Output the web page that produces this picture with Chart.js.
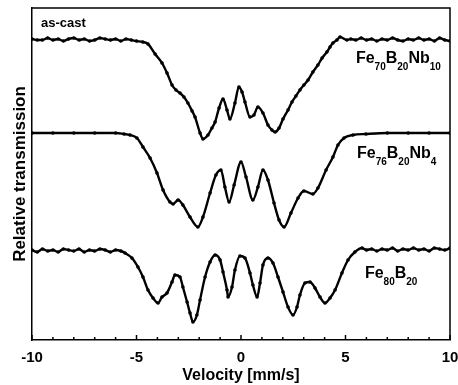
<!DOCTYPE html>
<html>
<head>
<meta charset="utf-8">
<script src="https://cdn.jsdelivr.net/npm/chart.js@4/dist/chart.umd.min.js"></script>
<style>
html,body{margin:0;padding:0;background:#fff;}
#wrap{width:458px;height:385px;}
</style>
</head>
<body>
<div id="wrap"><canvas id="c" width="458" height="385"></canvas></div>
<script>
// ---- data (velocity in mm/s, transmission in arbitrary units, curves stacked) ----
const velNb10 = [-10,-9.75,-9.5,-9.25,-9,-8.75,-8.5,-8.25,-8,-7.75,-7.5,-7.25,-7,-6.75,-6.5,-6.25,-6,-5.75,-5.5,-5.25,-5,-4.7,-4.45,-4.11,-3.78,-3.54,-3.30,-3.11,-2.92,-2.73,-2.54,-2.34,-2.20,-1.96,-1.82,-1.58,-1.39,-1.24,-1.05,-0.86,-0.67,-0.53,-0.29,-0.10,0.05,0.19,0.43,0.62,0.81,1.05,1.29,1.48,1.63,1.82,2.01,2.25,2.44,2.63,2.82,3.01,3.21,3.44,3.68,3.88,4.11,4.26,4.40,4.59,4.74,5.07,5.25,5.5,5.75,6,6.25,6.5,6.75,7,7.25,7.5,7.75,8,8.25,8.5,8.75,9,9.25,9.5,9.75,10];
const trNb10  = [301,300,300,302,300,301,299,301,302,300,301,299,300,302,301,300,301,299,301,300,299,298,296,286,277,267,255,250,247,243,237,229,223,207,201,205,212,218,232,241,230,221,237,253,248,238,223,225,233,227,215,210,208,212,221,230,238,244,250,255,260,268,275,282,288,293,297,300,303,300,301,300,302,300,301,299,301,300,302,300,299,301,300,302,300,301,299,302,300,299];

const velNb4 = [-10,-9,-8,-7,-6,-5.6,-5.31,-4.98,-4.69,-4.35,-4.02,-3.73,-3.40,-3.25,-3.01,-2.78,-2.44,-2.06,-1.82,-1.48,-1.20,-0.96,-0.77,-0.57,-0.33,0.00,0.24,0.57,0.81,1.05,1.29,1.58,1.82,2.06,2.39,2.73,3.01,3.44,3.68,4.07,4.40,4.64,4.93,5.36,5.98,7,8,9,10];
const trNb4  = [207,207,207,207,207,206,205,202,193,182,167,150,138,136,140,135,123,113,123,147,165,170,153,138,155,178,163,140,153,170,160,137,120,113,127,142,149,146,152,170,183,195,202,205,206,207,207,207,207];

const velB20 = [-10,-9.75,-9.5,-9.25,-9,-8.75,-8.5,-8.25,-8,-7.75,-7.5,-7.25,-7,-6.75,-6.5,-6.25,-6,-5.75,-5.55,-5.22,-4.93,-4.69,-4.45,-4.21,-3.97,-3.78,-3.54,-3.30,-3.16,-2.92,-2.78,-2.58,-2.44,-2.30,-2.11,-1.96,-1.72,-1.48,-1.24,-1.00,-0.86,-0.67,-0.62,-0.43,-0.29,-0.05,0.19,0.43,0.57,0.77,0.91,1.05,1.29,1.53,1.77,2.01,2.25,2.49,2.68,2.82,3.06,3.30,3.54,3.78,4.02,4.26,4.50,4.83,5.12,5.45,5.79,6,6.25,6.5,6.75,7,7.25,7.5,7.75,8,8.25,8.5,8.75,9,9.25,9.5,9.75,10];
const trB20  = [90,88,91,89,90,88,91,90,89,91,88,90,89,91,90,88,90,89,87,82,73,63,50,42,37,43,47,58,65,63,53,38,27,18,25,40,63,78,85,80,68,50,43,53,70,84,82,67,55,43,57,75,82,77,63,48,33,25,33,45,57,58,52,43,37,42,50,67,80,88,92,90,91,89,91,90,92,89,91,90,92,90,91,89,92,91,90,92];

const xTickValues = [-10,-9,-8,-7,-6,-5,-4,-3,-2,-1,0,1,2,3,4,5,6,7,8,9,10];
const xTickLabels = [-10,-5,0,5,10];

const curveNames = [["Fe","70","B","20","Nb","10"],["Fe","76","B","20","Nb","4"],["Fe","80","B","20"]];
const curveLabelX = [5.5, 5.55, 5.93];
const curveLabelY = [277, 182, 62];
const noteText = "as-cast";
const noteX = -9.57, noteY = 313;

const toPts = (xs, ys) => xs.map((v, i) => ({x: v, y: ys[i]}));
const FONT = "'Liberation Sans', Arial, sans-serif";

const ds = (pts) => ({
  data: pts, borderColor: '#000', backgroundColor: '#000', borderWidth: 2.4,
  pointRadius: 1.8, pointBackgroundColor: '#000', pointBorderWidth: 0,
  cubicInterpolationMode: 'monotone', fill: false
});

const decor = {
  id: 'decor',
  afterDraw(chart) {
    const c = chart.ctx, a = chart.chartArea;
    const xs = chart.scales.x, ys = chart.scales.y;
    c.save();
    c.strokeStyle = '#000';
    c.lineWidth = 1.5;
    // frame top & right
    c.beginPath();
    c.moveTo(a.left, a.top); c.lineTo(a.right, a.top); c.lineTo(a.right, a.bottom);
    c.stroke();
    // inward ticks on bottom axis
    xTickValues.forEach(v => {
      const px = xs.getPixelForValue(v);
      const len = xTickLabels.includes(v) ? 5 : 3;
      c.beginPath(); c.moveTo(px, a.bottom); c.lineTo(px, a.bottom - len); c.stroke();
    });
    // curve labels with subscripts
    c.fillStyle = '#000';
    c.textBaseline = 'alphabetic';
    c.textAlign = 'left';
    curveNames.forEach((parts, k) => {
      let x = xs.getPixelForValue(curveLabelX[k]);
      const y = ys.getPixelForValue(curveLabelY[k]);
      parts.forEach((p, j) => {
        const sub = j % 2 === 1;
        c.font = 'bold ' + (sub ? 10 : 16) + 'px ' + FONT;
        c.fillText(p, x, sub ? y + 7 : y);
        x += c.measureText(p).width;
      });
    });
    c.font = 'bold 13px ' + FONT;
    c.fillText(noteText, xs.getPixelForValue(noteX), ys.getPixelForValue(noteY));
    c.restore();
  }
};

new Chart(document.getElementById('c'), {
  type: 'line',
  data: { datasets: [ds(toPts(velNb10, trNb10)), ds(toPts(velNb4, trNb4)), ds(toPts(velB20, trB20))] },
  options: {
    responsive: false, animation: false,
    layout: { padding: { top: 8, right: 8, left: 0, bottom: 0 } },
    plugins: { legend: { display: false }, tooltip: { enabled: false } },
    scales: {
      x: {
        type: 'linear', min: -10, max: 10,
        afterFit: s => { s.height = 45; s.paddingLeft = 0; s.paddingRight = 0; },
        afterBuildTicks: s => { s.ticks = xTickValues.map(v => ({ value: v })); },
        ticks: {
          autoSkip: false, maxRotation: 0, color: '#000', padding: 9,
          font: { family: FONT, size: 15, weight: 'bold' },
          callback: v => xTickLabels.includes(v) ? String(v) : ''
        },
        grid: { display: false, drawTicks: false },
        border: { display: true, color: '#000', width: 1.5 },
        title: { display: true, text: 'Velocity [mm/s]', color: '#000', padding: { top: 0, bottom: 0 },
                 font: { family: FONT, size: 16, weight: 'bold' } }
      },
      y: {
        min: 0, max: 332,
        afterFit: s => { s.width = 32; s.paddingTop = 0; s.paddingBottom = 0; },
        ticks: { display: false },
        grid: { display: false, drawTicks: false },
        border: { display: true, color: '#000', width: 1.5 },
        title: { display: true, text: 'Relative transmission', color: '#000', padding: { top: 10, bottom: 0 },
                 font: { family: FONT, size: 17, weight: 'bold' } }
      }
    }
  },
  plugins: [decor]
});
</script>
</body>
</html>
